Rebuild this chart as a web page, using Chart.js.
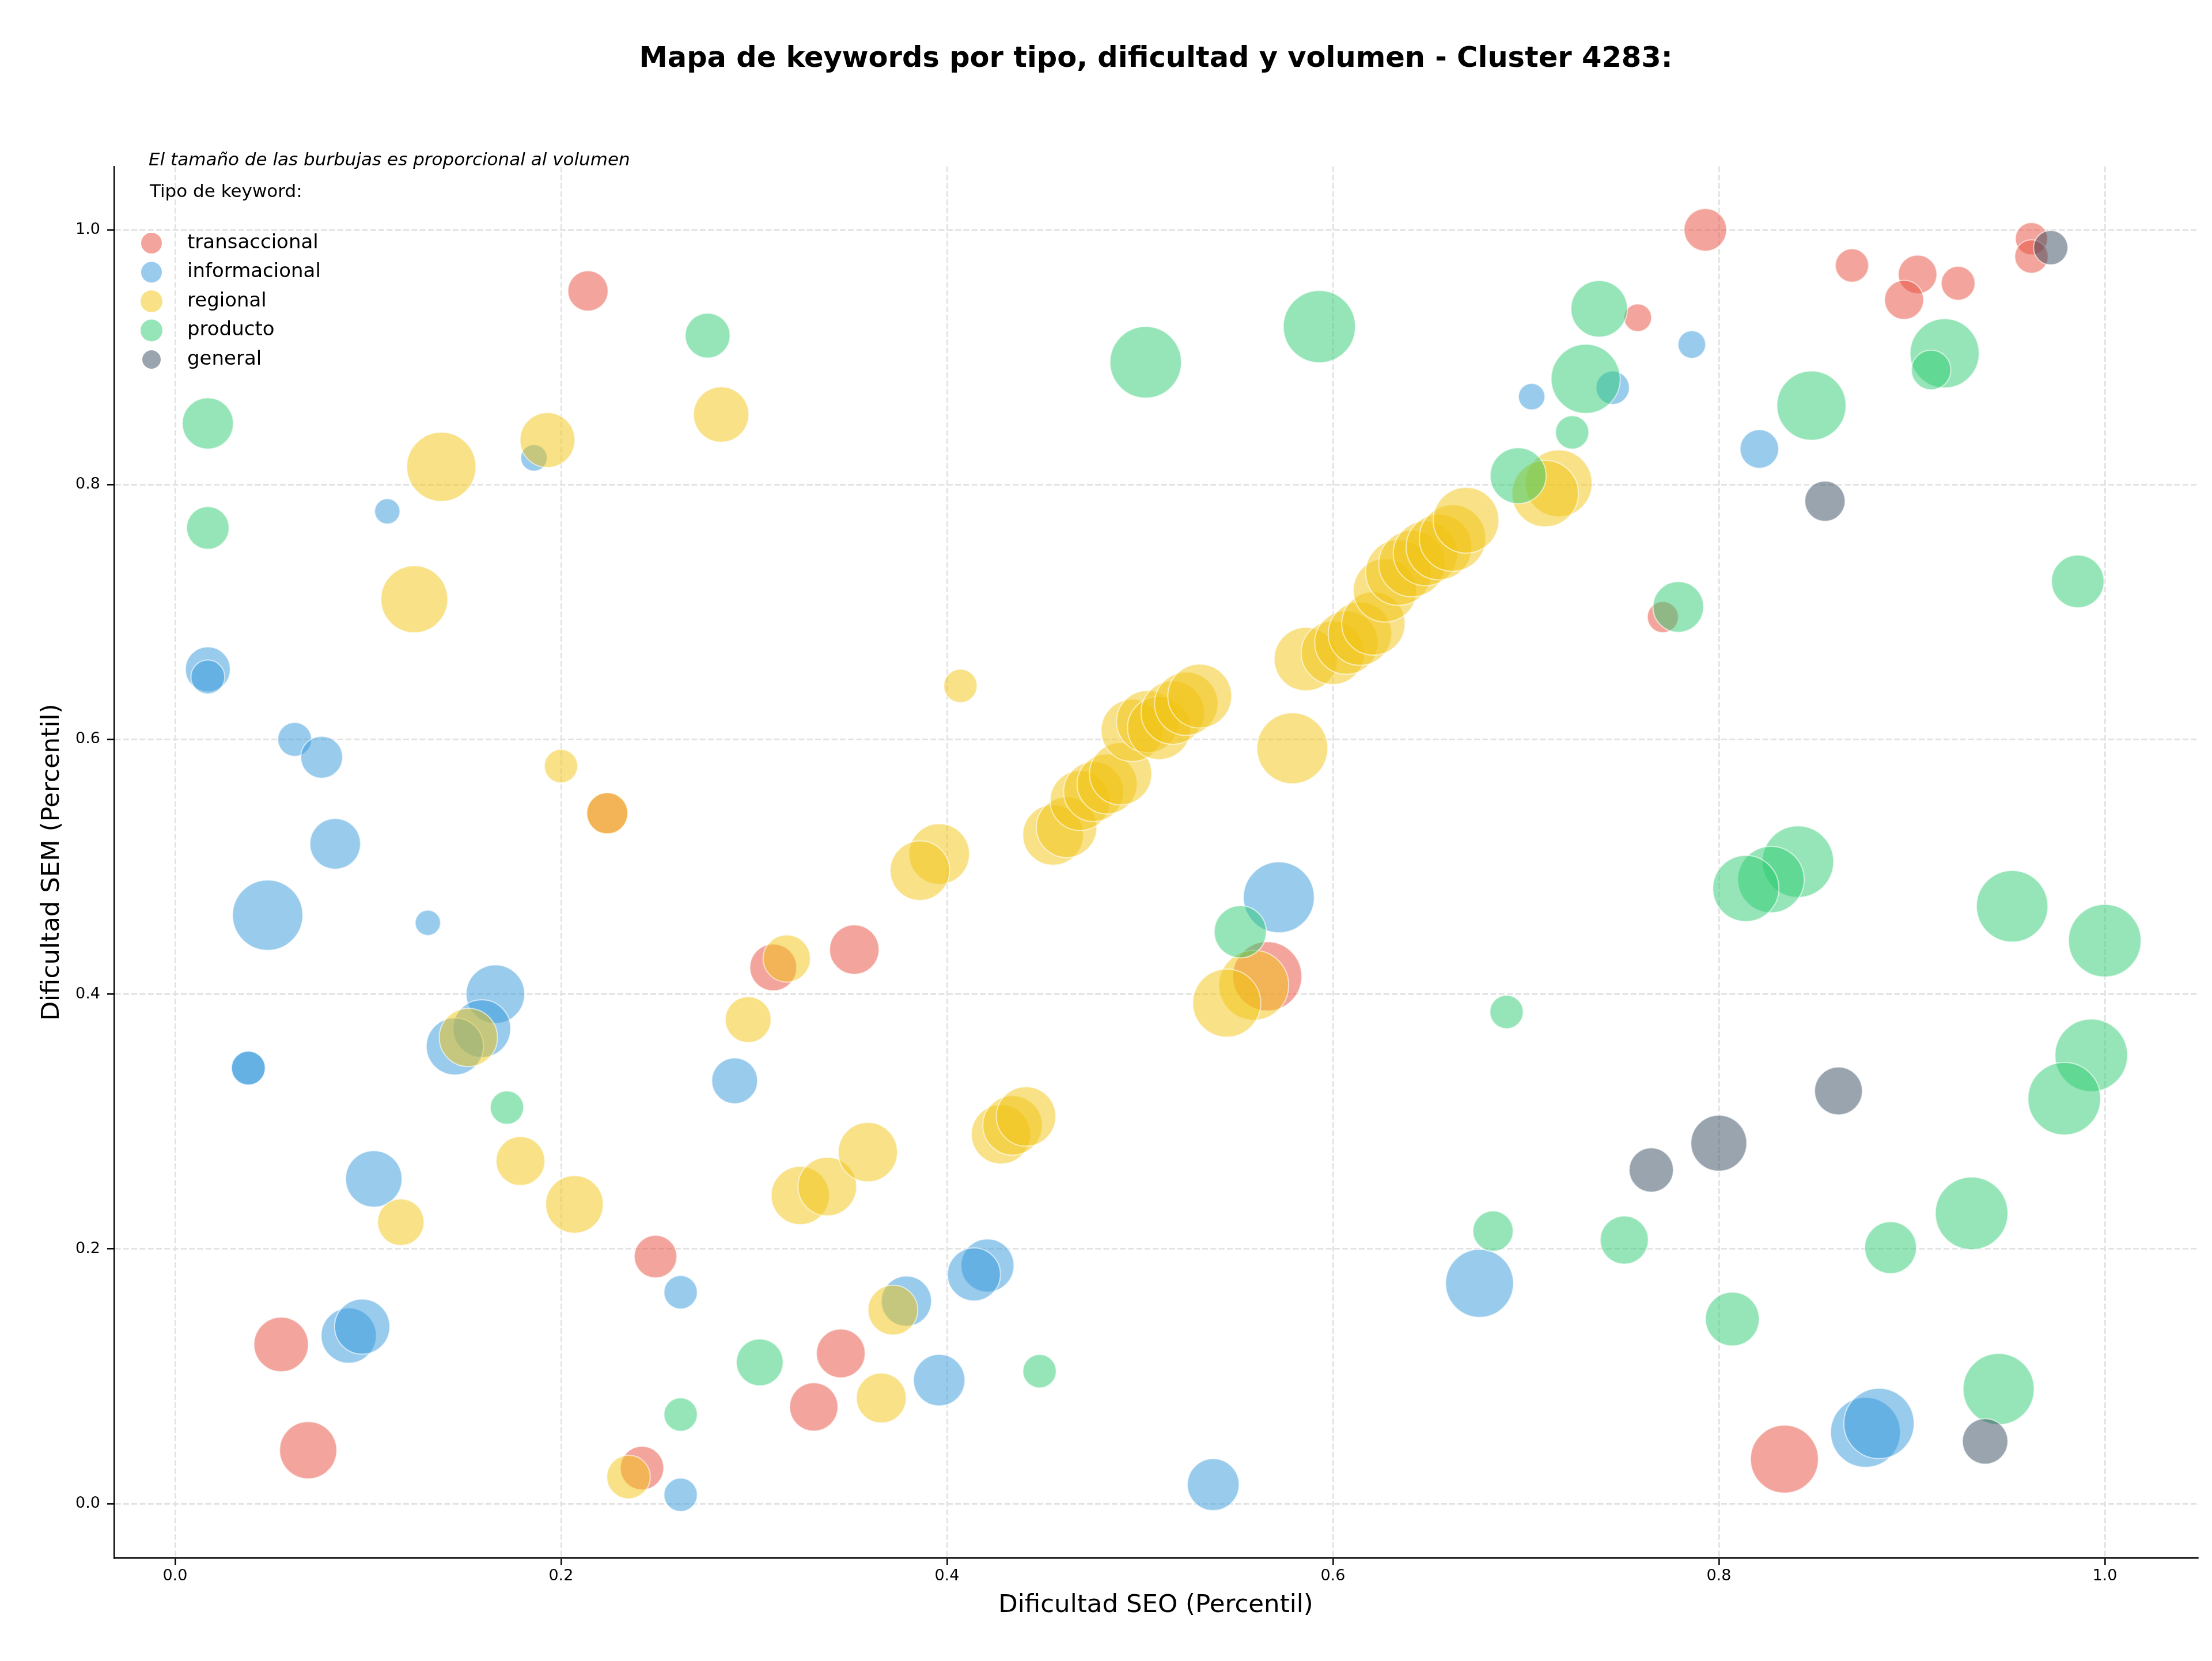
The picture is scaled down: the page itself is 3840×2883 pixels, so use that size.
<!DOCTYPE html>
<html>
<head>
<meta charset="utf-8">
<script src="https://cdn.jsdelivr.net/npm/chart.js@4/dist/chart.umd.min.js"></script>
<style>
  html, body { margin: 0; padding: 0; background: #ffffff; }
  canvas { display: block; }
</style>
</head>
<body>
<canvas id="chart" width="3840" height="2883"></canvas>
<script>
// ---------------- DATA ----------------
// Each point: [Dificultad SEO (percentil), Dificultad SEM (percentil), volumen]
const categories = ['transaccional', 'informacional', 'regional', 'producto', 'general'];

const transaccional = [
  [0.214, 0.952, 306], [0.793, 1.000, 342], [0.869, 0.972, 210], [0.903, 0.965, 281],
  [0.896, 0.945, 289], [0.924, 0.958, 216], [0.962, 0.993, 196], [0.962, 0.979, 210],
  [0.758, 0.931, 144], [0.771, 0.696, 182], [0.224, 0.542, 320], [0.352, 0.435, 462],
  [0.310, 0.421, 414], [0.566, 0.414, 900], [0.249, 0.194, 342], [0.055, 0.125, 559],
  [0.069, 0.042, 615], [0.242, 0.028, 357], [0.345, 0.118, 449], [0.331, 0.076, 441],
  [0.834, 0.035, 867]
];

const informacional = [
  [0.186, 0.821, 132], [0.110, 0.779, 121], [0.745, 0.876, 210], [0.703, 0.869, 132],
  [0.786, 0.910, 144], [0.821, 0.828, 281], [0.017, 0.655, 380], [0.017, 0.649, 216],
  [0.062, 0.600, 216], [0.076, 0.586, 331], [0.083, 0.518, 484], [0.048, 0.462, 930],
  [0.131, 0.456, 121], [0.166, 0.400, 645], [0.159, 0.373, 625], [0.145, 0.359, 615],
  [0.038, 0.342, 216], [0.038, 0.342, 216], [0.290, 0.332, 396], [0.572, 0.476, 946],
  [0.103, 0.255, 600], [0.090, 0.132, 574], [0.097, 0.139, 574], [0.262, 0.166, 210],
  [0.421, 0.187, 529], [0.414, 0.180, 529], [0.379, 0.159, 475], [0.396, 0.097, 500],
  [0.262, 0.007, 210], [0.676, 0.173, 867], [0.538, 0.015, 506], [0.876, 0.056, 918],
  [0.883, 0.063, 930]
];

const regional = [
  [0.138, 0.814, 900], [0.193, 0.835, 566], [0.124, 0.710, 841], [0.283, 0.855, 576],
  [0.200, 0.579, 210], [0.224, 0.542, 320], [0.407, 0.642, 210], [0.396, 0.510, 689],
  [0.386, 0.497, 666], [0.317, 0.428, 420], [0.297, 0.380, 396], [0.152, 0.366, 638],
  [0.179, 0.269, 449], [0.207, 0.235, 625], [0.117, 0.221, 408], [0.235, 0.021, 357],
  [0.324, 0.242, 638], [0.338, 0.249, 645], [0.359, 0.276, 660], [0.428, 0.290, 660],
  [0.434, 0.297, 666], [0.441, 0.304, 666], [0.372, 0.152, 469], [0.366, 0.083, 469],
  [0.559, 0.407, 918], [0.545, 0.393, 870], [0.579, 0.593, 946], [0.717, 0.801, 841],
  [0.710, 0.793, 832],
  [0.455, 0.525, 689], [0.462, 0.531, 689], [0.469, 0.552, 676], [0.476, 0.559, 676],
  [0.483, 0.565, 676], [0.490, 0.573, 729], [0.496, 0.607, 729], [0.504, 0.614, 729],
  [0.510, 0.609, 756], [0.517, 0.621, 756], [0.524, 0.628, 756], [0.531, 0.634, 767],
  [0.586, 0.663, 756], [0.600, 0.668, 756], [0.607, 0.676, 756], [0.614, 0.683, 756],
  [0.621, 0.691, 756], [0.627, 0.717, 756], [0.634, 0.731, 812], [0.641, 0.738, 832],
  [0.648, 0.746, 784], [0.655, 0.751, 812], [0.662, 0.758, 832], [0.669, 0.772, 812]
];

const producto = [
  [0.017, 0.848, 493], [0.017, 0.766, 342], [0.276, 0.917, 380], [0.503, 0.896, 961],
  [0.593, 0.924, 980], [0.738, 0.938, 600], [0.731, 0.883, 900], [0.724, 0.841, 210],
  [0.696, 0.807, 588], [0.917, 0.903, 900], [0.910, 0.890, 294], [0.848, 0.862, 900],
  [0.986, 0.724, 520], [0.779, 0.704, 484], [0.552, 0.449, 513], [0.690, 0.386, 210],
  [0.841, 0.504, 961], [0.827, 0.490, 832], [0.814, 0.483, 824], [0.952, 0.469, 961],
  [1.000, 0.442, 992], [0.993, 0.352, 992], [0.979, 0.318, 992], [0.172, 0.311, 210],
  [0.303, 0.111, 414], [0.448, 0.104, 210], [0.262, 0.070, 210], [0.683, 0.214, 306],
  [0.751, 0.207, 437], [0.931, 0.228, 992], [0.889, 0.201, 506], [0.807, 0.145, 545],
  [0.945, 0.090, 952]
];

const general = [
  [0.972, 0.986, 221], [0.855, 0.787, 306], [0.862, 0.324, 431], [0.765, 0.262, 369],
  [0.800, 0.283, 588], [0.938, 0.049, 390]
];

const xTicks = [0.0, 0.2, 0.4, 0.6, 0.8, 1.0];
const yTicks = [0.0, 0.2, 0.4, 0.6, 0.8, 1.0];

const chartTitle = 'Mapa de keywords por tipo, dificultad y volumen - Cluster 4283:';
const subtitle = 'El tamaño de las burbujas es proporcional al volumen';
const legendTitle = 'Tipo de keyword:';
const xTitle = 'Dificultad SEO (Percentil)';
const yTitle = 'Dificultad SEM (Percentil)';

// ---------------- STYLE / LAYOUT ----------------
const seriesData = [transaccional, informacional, regional, producto, general];
const baseColors = ['#e74c3c', '#3498db', '#f1c40f', '#2ecc71', '#34495e'];
const W = 3840, H = 2883;
const AREA = { left: 198, right: 3815, top: 289, bottom: 2704 };
const X_RANGE = [-0.0316, 1.0481];
const Y_RANGE = [-0.0425, 1.0497];
const FONT = '"DejaVu Sans", "Liberation Sans", sans-serif';
const TITLE_SIZE = 49.5;
const AXIS_TITLE_SIZE = 43.5;

function rgba(hex, a) {
  const n = parseInt(hex.slice(1), 16);
  return `rgba(${(n >> 16) & 255}, ${(n >> 8) & 255}, ${n & 255}, ${a})`;
}
function bubbleRadius(vol) { return 2 * Math.sqrt(vol); }

Chart.defaults.font.family = FONT;
Chart.defaults.color = '#000';

const datasets = categories.map((name, i) => ({
  label: name,
  data: seriesData[i].map(([x, y, v]) => ({ x, y, r: bubbleRadius(v) })),
  backgroundColor: rgba(baseColors[i], 0.5),
  borderColor: 'rgba(255,255,255,0.6)',
  borderWidth: 2,
  hoverRadius: 0,
  order: categories.length - i
}));

const annotations = {
  id: 'annotations',
  afterDraw(chart) {
    const ctx = chart.ctx;
    ctx.save();
    ctx.textAlign = 'left';
    ctx.textBaseline = 'middle';
    ctx.fillStyle = '#000';
    ctx.font = `italic 31px ${FONT}`;
    ctx.fillText(subtitle, 258, 279);
    ctx.font = `31px ${FONT}`;
    ctx.fillText(legendTitle, 260, 334);
    const markerR = [18, 18, 19, 19, 16];
    categories.forEach((c, i) => {
      const y = 422 + i * 50.5;
      ctx.beginPath();
      ctx.arc(263, y, markerR[i], 0, Math.PI * 2);
      ctx.fillStyle = rgba(baseColors[i], 0.5);
      ctx.fill();
      ctx.fillStyle = '#000';
      ctx.font = `34px ${FONT}`;
      ctx.fillText(c, 325, y);
    });
    ctx.restore();
  }
};

new Chart(document.getElementById('chart'), {
  type: 'bubble',
  data: { datasets },
  plugins: [annotations],
  options: {
    responsive: false,
    devicePixelRatio: 1,
    animation: false,
    events: [],
    layout: { autoPadding: false, padding: { left: 0, right: W - AREA.right, top: 0, bottom: 0 } },
    plugins: {
      legend: { display: false },
      tooltip: { enabled: false },
      title: {
        display: true,
        text: chartTitle,
        fullSize: false,
        color: '#000',
        font: { size: TITLE_SIZE, weight: 'bold', family: FONT },
        padding: { top: 73, bottom: AREA.top - 73 - TITLE_SIZE * 1.2 }
      }
    },
    scales: {
      x: {
        type: 'linear',
        min: X_RANGE[0],
        max: X_RANGE[1],
        afterBuildTicks: s => { s.ticks = xTicks.map(v => ({ value: v })); },
        afterFit: s => { s.height = H - AREA.bottom; },
        ticks: {
          callback: v => Number(v).toFixed(1),
          font: { size: 27 },
          color: '#000',
          padding: 4,
          maxRotation: 0,
          autoSkip: false
        },
        grid: {
          color: '#e2e2e2',
          lineWidth: 2.7,
          drawTicks: true,
          tickLength: 12,
          tickColor: '#000',
          tickWidth: 2.5,
          tickBorderDash: []
        },
        border: { display: true, color: '#000', width: 2.5, dash: [10, 4.3] },
        title: {
          display: true,
          text: xTitle,
          color: '#000',
          font: { size: AXIS_TITLE_SIZE },
          padding: { top: 0, bottom: 96 - AXIS_TITLE_SIZE * 0.6 }
        }
      },
      y: {
        type: 'linear',
        min: Y_RANGE[0],
        max: Y_RANGE[1],
        afterBuildTicks: s => { s.ticks = yTicks.map(v => ({ value: v })); },
        afterFit: s => { s.width = AREA.left; },
        ticks: {
          callback: v => Number(v).toFixed(1),
          font: { size: 27 },
          color: '#000',
          padding: 12,
          autoSkip: false
        },
        grid: {
          color: '#e2e2e2',
          lineWidth: 2.7,
          drawTicks: true,
          tickLength: 12,
          tickColor: '#000',
          tickWidth: 2.5,
          tickBorderDash: []
        },
        border: { display: true, color: '#000', width: 2.5, dash: [10, 4.3] },
        title: {
          display: true,
          text: yTitle,
          color: '#000',
          font: { size: AXIS_TITLE_SIZE },
          padding: { top: 91 - AXIS_TITLE_SIZE * 0.6, bottom: 0 }
        }
      }
    }
  }
});
</script>
</body>
</html>
